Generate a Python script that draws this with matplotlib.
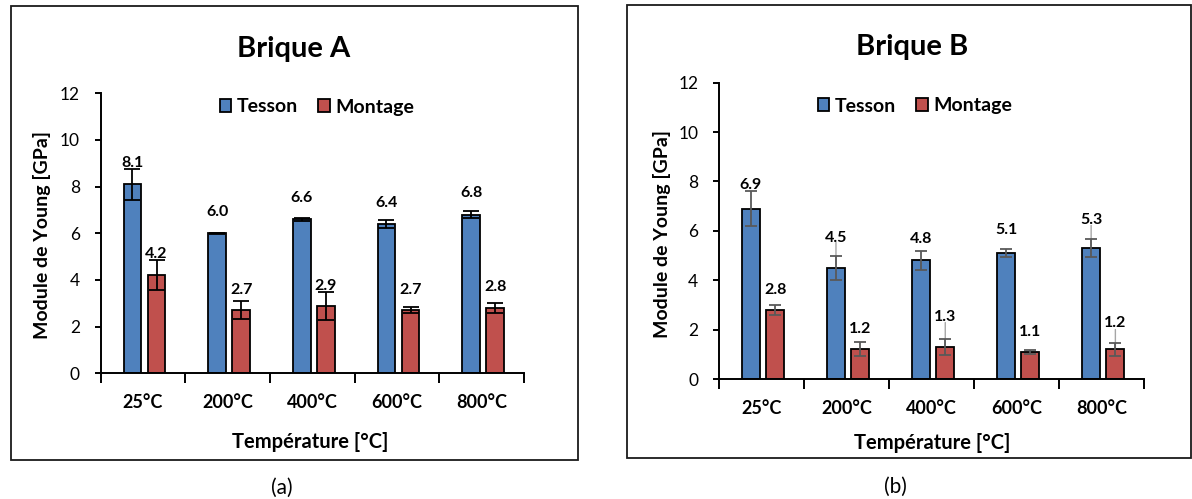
import matplotlib
matplotlib.use("Agg")
import matplotlib.pyplot as plt
from matplotlib.patches import Rectangle, Patch
import numpy as np

plt.rcParams['font.family'] = ['Lato', 'DejaVu Sans']

W, H = 1192, 499

categories = ["25°C", "200°C", "400°C", "600°C", "800°C"]
series = ["Tesson", "Montage"]

# Brique A
a_tesson = [8.1, 6.0, 6.6, 6.4, 6.8]
a_tesson_err = [0.67, 0.03, 0.07, 0.17, 0.14]
a_montage = [4.2, 2.7, 2.9, 2.7, 2.8]
a_montage_err = [0.65, 0.39, 0.60, 0.13, 0.22]

# Brique B
b_tesson = [6.9, 4.5, 4.8, 5.1, 5.3]
b_tesson_err = [0.72, 0.48, 0.37, 0.15, 0.36]
b_montage = [2.8, 1.2, 1.3, 1.1, 1.2]
b_montage_err = [0.20, 0.28, 0.32, 0.07, 0.25]

BLUE = "#4F81BD"
RED = "#C0504D"


def px_rect(x0, y0, x1, y1):
    # pixel box (top-left origin) -> figure fraction rect
    return [x0 / W, 1 - y1 / H, (x1 - x0) / W, (y1 - y0) / H]


def draw_panel(fig, rect, title, tesson, tesson_err, montage, montage_err,
               err_color, capsize, lifts, title_xy, legend_xy, xlabel_xy, ylabel_xy):
    ax = fig.add_axes(rect)
    x = np.arange(len(categories))
    w = 0.21
    groups = [(tesson, tesson_err, BLUE, -0.125), (montage, montage_err, RED, 0.16)]
    for gi, (vals, errs, col, off) in enumerate(groups):
        ax.bar(x + off, vals, w, color=col, edgecolor="black", linewidth=1.3, zorder=2)
        ax.errorbar(x + off, vals, yerr=errs, fmt="none", ecolor=err_color,
                    elinewidth=1.3, capsize=capsize, capthick=1.3, zorder=3)
        for i, v in enumerate(vals):
            lift = lifts[gi][i]
            ax.annotate(f"{v:.1f}", xy=(x[i] + off, v), xytext=(0, lift),
                        textcoords="offset pixels", ha="center", va="center",
                        fontsize=11.5, fontweight="bold", zorder=4)
            if lift > 25:
                ax.annotate("", xy=(x[i] + off, v + errs[i] * 0.3), xytext=(0, lift - 8),
                            textcoords="offset pixels",
                            arrowprops=dict(arrowstyle="-", color="#A6A6A6", lw=1.0,
                                            shrinkA=0, shrinkB=0), zorder=1)

    ax.set_xlim(-0.5, len(categories) - 0.5)
    ax.set_ylim(0, 12)
    ax.set_yticks(range(0, 13, 2))
    ax.set_xticks(np.arange(-0.5, len(categories)), labels=[""] * (len(categories) + 1))
    ax.set_xticks(x, labels=categories, minor=True)
    ax.tick_params(axis="x", which="major", length=7, width=1.4, direction="out")
    ax.tick_params(axis="x", which="minor", length=0, pad=15,
                   labelsize=13, labelcolor="black")
    for lab in ax.get_xticklabels(minor=True):
        lab.set_fontweight("bold")
    ax.tick_params(axis="y", length=4, width=1.4, direction="out", pad=11, labelsize=12.5)
    for s in ["top", "right"]:
        ax.spines[s].set_visible(False)
    for s in ["left", "bottom"]:
        ax.spines[s].set_linewidth(1.4)

    fig.text(title_xy[0] / W, 1 - title_xy[1] / H, title, ha="center", va="center",
             fontsize=21, fontweight="bold")
    fig.text(xlabel_xy[0] / W, 1 - xlabel_xy[1] / H, "Température [°C]", ha="center",
             va="center", fontsize=14.5, fontweight="bold")
    fig.text(ylabel_xy[0] / W, 1 - ylabel_xy[1] / H, "Module de Young [GPa]", ha="center",
             va="center", rotation=90, fontsize=14, fontweight="bold")

    handles = [Patch(facecolor=BLUE, edgecolor="black", linewidth=1.3),
               Patch(facecolor=RED, edgecolor="black", linewidth=1.3)]
    ax.legend(handles, series, loc="center", ncol=2, frameon=False,
              bbox_to_anchor=(legend_xy[0] / W, 1 - legend_xy[1] / H),
              bbox_transform=fig.transFigure, handlelength=0.6, handleheight=0.6,
              handletextpad=0.3, columnspacing=1.0, borderaxespad=0,
              prop=dict(size=14, weight="bold"))
    return ax


fig = plt.figure(figsize=(W / 100, H / 100), dpi=100)

# outer frames
for x0, y0, x1, y1 in [(11, 6, 578, 460), (627, 5, 1191, 458)]:
    r = px_rect(x0, y0, x1, y1)
    fig.patches.append(Rectangle((r[0], r[1]), r[2], r[3], transform=fig.transFigure,
                                 fill=False, edgecolor="#1a1a1a", linewidth=1.3))

lifts_a = [[21, 21, 21, 21, 22], [21, 20, 20, 20, 21]]
lifts_b = [[24, 30, 21, 23, 28], [20, 20, 30, 20, 26]]

draw_panel(fig, px_rect(100.7, 93.3, 524, 373.3), "Brique A",
           a_tesson, a_tesson_err, a_montage, a_montage_err, "black", 5.5, lifts_a,
           (294, 49), (317, 107), (310, 442), (42, 235))
draw_panel(fig, px_rect(719, 82.7, 1144.3, 379), "Brique B",
           b_tesson, b_tesson_err, b_montage, b_montage_err, "#595959", 4.5, lifts_b,
           (912, 47), (915, 106), (932, 443), (662, 234))

fig.text(282 / W, 1 - 488 / H, "(a)", ha="center", va="center", fontsize=15)
fig.text(895 / W, 1 - 487 / H, "(b)", ha="center", va="center", fontsize=15)

fig.savefig("out.png", dpi=100)
